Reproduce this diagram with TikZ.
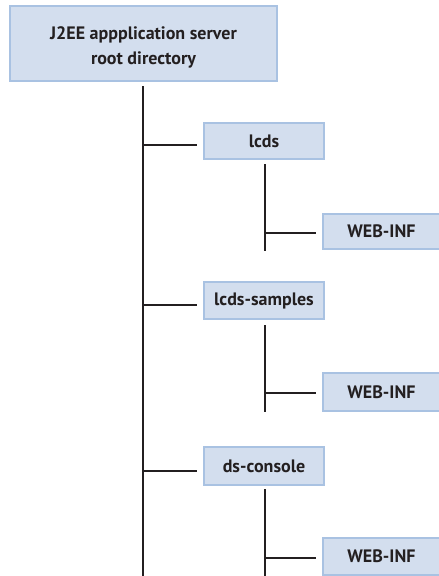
\documentclass[tikz,border=0pt]{standalone}
\usepackage{fontspec}
\setmainfont{PT Sans}
\definecolor{boxfill}{HTML}{D3DEEE}
\definecolor{boxline}{HTML}{A9C2E2}
\definecolor{ink}{HTML}{231F20}
\begin{document}
\begin{tikzpicture}[x=1pt,y=-1pt,
  dirbox/.style={draw=boxline, fill=boxfill, line width=2.2pt, inner sep=0pt,
    text=ink, font=\bfseries\fontsize{18}{25}\selectfont, align=center},
  conn/.style={draw=ink, line width=2.2pt}]
\useasboundingbox (0,0) rectangle (439,576);
% boxes
\node[dirbox, minimum width=267pt, minimum height=75pt] (root) at (143.5,43.5)
  {\rule{0pt}{20pt}J2EE appplication server\\root directory};
\node[dirbox, minimum width=120pt, minimum height=36pt] (lcds) at (264,141) {lcds};
\node[dirbox, minimum width=120pt, minimum height=37pt] (samples) at (264,300.5) {lcds-samples};
\node[dirbox, minimum width=120pt, minimum height=38pt] (console) at (264,466) {ds-console};
\node[dirbox, minimum width=117pt, minimum height=35pt] (web1) at (381.5,231.5) {WEB-INF};
\node[dirbox, minimum width=117pt, minimum height=38pt] (web2) at (381.5,392) {WEB-INF};
\node[dirbox, minimum width=117pt, minimum height=37pt] (web3) at (381.5,556.5) {WEB-INF};
% trunk
\coordinate (t0) at (143,86);
\coordinate (t1) at (143,580);
\draw[conn] (t0) -- (t1);
\draw[conn] ([shift={(-6,4)}]lcds.west) -- ([shift={(0,4)}]lcds.west -| t0);
\draw[conn] ([shift={(-6,4.5)}]samples.west) -- ([shift={(0,4.5)}]samples.west -| t0);
\draw[conn] ([shift={(-6,5)}]console.west) -- ([shift={(0,5)}]console.west -| t0);
% child lines
\coordinate (c1) at (265,251);
\coordinate (c2) at (265,412);
\coordinate (c3) at (265,580);
\draw[conn] ([shift={(1,4)}]lcds.south) -- (c1);
\draw[conn] ([shift={(1,5)}]samples.south) -- (c2);
\draw[conn] ([shift={(1,3)}]console.south) -- (c3);
\draw[conn] ([shift={(-6,1.5)}]web1.west) -- ([shift={(0,1.5)}]web1.west -| c1);
\draw[conn] ([shift={(-6,1)}]web2.west) -- ([shift={(0,1)}]web2.west -| c2);
\draw[conn] ([shift={(-6,1.5)}]web3.west) -- ([shift={(0,1.5)}]web3.west -| c3);
\end{tikzpicture}
\end{document}
